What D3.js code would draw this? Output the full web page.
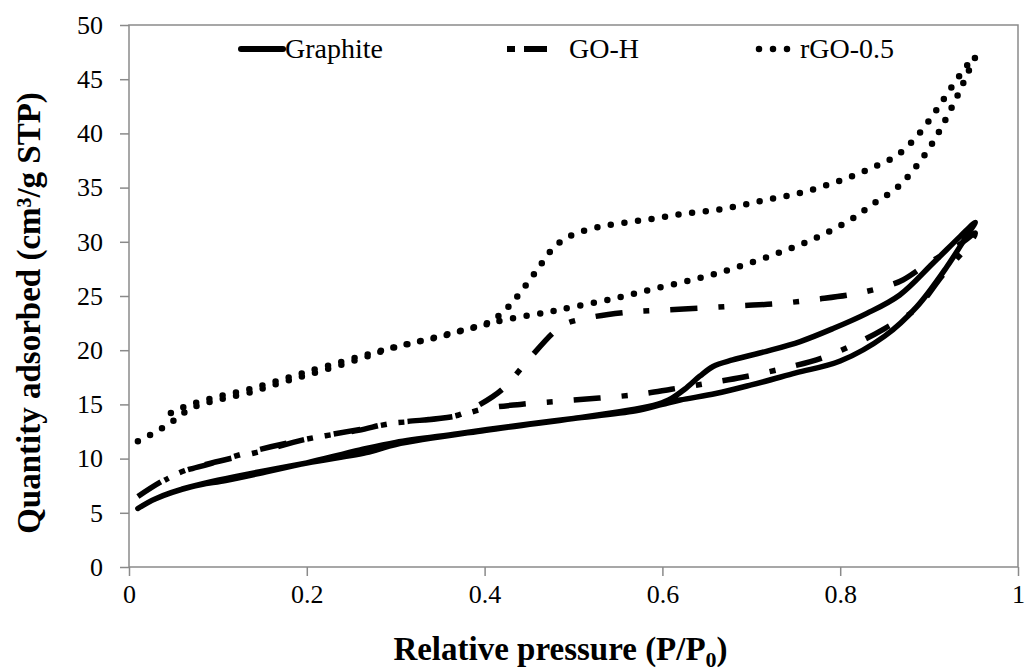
<!DOCTYPE html>
<html>
<head>
<meta charset="utf-8">
<script src="https://cdn.jsdelivr.net/npm/d3@7"></script>
<style>
  body { margin: 0; background: #fff; }
</style>
</head>
<body>
<div id="chart"></div>
<script>
// adsorption branch first, then desorption back down
var graphiteP = [0.01, 0.03, 0.07, 0.11, 0.15, 0.2, 0.26, 0.3, 0.37, 0.45, 0.5, 0.57, 0.6, 0.62, 0.66, 0.7, 0.75, 0.8, 0.85, 0.886, 0.92, 0.942, 0.952,
                 0.935, 0.904, 0.867, 0.83, 0.792, 0.755, 0.717, 0.679, 0.657, 0.642, 0.625, 0.607, 0.59, 0.55, 0.5, 0.4, 0.3, 0.27, 0.2, 0.1, 0.06];
var graphiteQ = [5.4, 6.3, 7.4, 8.0, 8.7, 9.6, 10.8, 11.5, 12.3, 13.2, 13.7, 14.4, 15.0, 15.4, 16.0, 16.8, 17.9, 19.0, 21.3, 24.0, 27.7, 30.5, 31.8,
                 30.5, 28.0, 25.1, 23.4, 22.0, 20.8, 19.9, 19.1, 18.5, 17.6, 16.4, 15.4, 14.9, 14.3, 13.7, 12.6, 11.3, 10.6, 9.6, 8.0, 7.2];

var goP = [0.01, 0.037, 0.063, 0.093, 0.145, 0.2, 0.258, 0.29, 0.314, 0.367, 0.4, 0.44, 0.5, 0.57, 0.61, 0.654, 0.69, 0.74, 0.78, 0.82, 0.85, 0.885, 0.915, 0.946, 0.952,
           0.935, 0.897, 0.871, 0.856, 0.817, 0.774, 0.73, 0.687, 0.646, 0.6, 0.56, 0.517, 0.49, 0.477, 0.45, 0.42, 0.395, 0.37, 0.3, 0.26, 0.2, 0.14, 0.09, 0.06, 0.04];
var goQ = [6.5, 7.9, 8.9, 9.6, 10.6, 11.8, 12.6, 13.2, 13.4, 13.9, 14.6, 15.0, 15.4, 15.9, 16.4, 17.0, 17.5, 18.4, 19.3, 20.7, 22.0, 23.8, 26.9, 29.9, 30.8,
           29.8, 27.9, 26.5, 26.0, 25.2, 24.7, 24.3, 24.1, 23.9, 23.7, 23.5, 23.0, 22.4, 21.6, 19.2, 16.4, 15.0, 14.0, 13.3, 12.7, 11.8, 10.7, 9.5, 8.8, 8.0];

var rgoP = [0.01, 0.024, 0.037, 0.05, 0.063, 0.076, 0.092, 0.11, 0.14, 0.17, 0.2, 0.256, 0.3, 0.348, 0.393, 0.423, 0.47, 0.5, 0.547, 0.592, 0.639, 0.682, 0.728, 0.771, 0.813, 0.838, 0.864, 0.885, 0.903, 0.918, 0.932, 0.945, 0.952,
            0.942, 0.924, 0.907, 0.888, 0.866, 0.838, 0.81, 0.78, 0.75, 0.719, 0.688, 0.657, 0.625, 0.595, 0.565, 0.533, 0.504, 0.49, 0.477, 0.459, 0.44, 0.43, 0.419, 0.406, 0.378, 0.331, 0.286, 0.2, 0.14, 0.09, 0.06, 0.04];
var rgoQ = [11.6, 12.2, 12.8, 13.5, 14.3, 14.85, 15.25, 15.6, 16.2, 17.0, 17.7, 19.1, 20.3, 21.2, 22.2, 22.8, 23.5, 24.0, 24.8, 25.7, 26.6, 27.6, 28.9, 30.3, 32.1, 33.55, 35.0, 36.9, 39.0, 41.2, 43.5, 45.85, 47.1,
            46.2, 44.1, 42.0, 39.9, 38.1, 36.9, 35.95, 35.1, 34.4, 33.9, 33.35, 32.9, 32.6, 32.2, 31.85, 31.45, 30.8, 30.25, 29.4, 27.4, 25.3, 24.3, 23.4, 22.6, 21.9, 20.9, 20.0, 18.0, 16.5, 15.5, 14.7, 13.9];

var seriesNames = ["Graphite", "GO-H", "rGO-0.5"];
var xTicks = [0, 0.2, 0.4, 0.6, 0.8, 1];
var yTicks = [0, 5, 10, 15, 20, 25, 30, 35, 40, 45, 50];

var width = 1032, height = 671;
var margin = {top: 25, right: 14, bottom: 104, left: 129};
var axisColor = "#8a8a8a";
var font = "'Liberation Serif'";

var svg = d3.select("#chart").append("svg")
    .attr("width", width)
    .attr("height", height)
    .attr("font-family", font);

var plotW = width - margin.left - margin.right;
var plotH = height - margin.top - margin.bottom;

var x = d3.scaleLinear().domain([0, 1]).range([0, plotW]);
var y = d3.scaleLinear().domain([0, 50]).range([plotH, 0]);

var g = svg.append("g")
    .attr("transform", "translate(" + margin.left + "," + margin.top + ")");

// frame
g.append("rect")
    .attr("x", 0).attr("y", 0)
    .attr("width", plotW).attr("height", plotH)
    .attr("fill", "none")
    .attr("stroke", axisColor)
    .attr("stroke-width", 1.5);

var xAxis = g.append("g")
    .attr("transform", "translate(0," + plotH + ")")
    .call(d3.axisBottom(x).tickValues(xTicks).tickFormat(d3.format("")).tickSize(9).tickPadding(9));

var yAxis = g.append("g")
    .call(d3.axisLeft(y).tickValues(yTicks).tickSize(9).tickPadding(17));

[xAxis, yAxis].forEach(function(a) {
  a.attr("font-family", font).attr("font-size", 26);
  a.select(".domain").remove();
  a.selectAll("line").attr("stroke", axisColor).attr("stroke-width", 1.5);
  a.selectAll("text").attr("fill", "#000").attr("font-family", font);
});

var styles = [
  {dash: null, cap: "round", w: 5.5},
  {dash: "27 21 6 21", cap: "butt", w: 5.5},
  {dash: "0 13.7", cap: "round", w: 6.5}
];

var line = d3.line()
    .x(function(d) { return x(d[0]); })
    .y(function(d) { return y(d[1]); })
    .curve(d3.curveCatmullRom.alpha(0.5));

var seriesData = [
  d3.zip(graphiteP, graphiteQ),
  d3.zip(goP, goQ),
  d3.zip(rgoP, rgoQ)
];

seriesData.forEach(function(data, i) {
  g.append("path")
      .datum(data)
      .attr("d", line)
      .attr("fill", "none")
      .attr("stroke", "#000")
      .attr("stroke-width", styles[i].w)
      .attr("stroke-linecap", styles[i].cap)
      .attr("stroke-linejoin", "round")
      .attr("stroke-dasharray", styles[i].dash);
});

// legend
var legendX = [241, 507, 759];
var legendTextX = [285, 569, 800];
var legendY = 49;
var leg = svg.append("g");

leg.append("line")
    .attr("x1", legendX[0]).attr("x2", 283)
    .attr("y1", legendY).attr("y2", legendY)
    .attr("stroke", "#000").attr("stroke-width", 6).attr("stroke-linecap", "round");
leg.append("line")
    .attr("x1", legendX[1]).attr("x2", 547)
    .attr("y1", legendY).attr("y2", legendY)
    .attr("stroke", "#000").attr("stroke-width", 6)
    .attr("stroke-dasharray", "8 9 23 100");
leg.append("line")
    .attr("x1", legendX[2]).attr("x2", 788)
    .attr("y1", legendY).attr("y2", legendY)
    .attr("stroke", "#000").attr("stroke-width", 6.5).attr("stroke-linecap", "round")
    .attr("stroke-dasharray", "0 14");

seriesNames.forEach(function(name, i) {
  leg.append("text")
      .attr("x", legendTextX[i])
      .attr("y", legendY + 9)
      .attr("font-family", font)
      .attr("font-size", 28)
      .text(name);
});

// axis titles
var xt = svg.append("text")
    .attr("x", margin.left + plotW / 2 - 13)
    .attr("y", 660)
    .attr("text-anchor", "middle")
    .attr("font-family", font)
    .attr("font-size", 33)
    .attr("font-weight", "bold");
xt.append("tspan").text("Relative pressure (P/P");
xt.append("tspan").attr("dy", 7).attr("font-size", 22).text("0");
xt.append("tspan").attr("dy", -7).text(")");

svg.append("text")
    .attr("transform", "translate(40,313) rotate(-90)")
    .attr("text-anchor", "middle")
    .attr("font-family", font)
    .attr("font-size", 33)
    .attr("font-weight", "bold")
    .text("Quantity adsorbed (cm³/g STP)");
</script>
</body>
</html>
